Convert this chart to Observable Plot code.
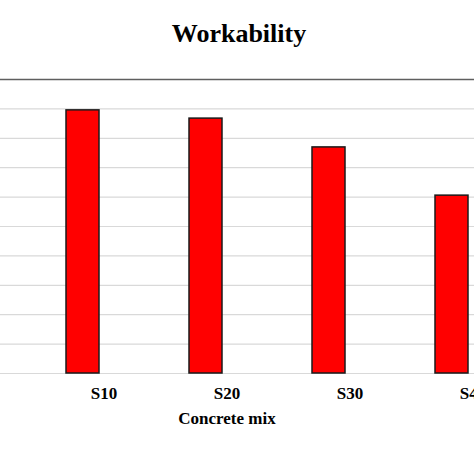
<!DOCTYPE html>
<html>
<head>
<meta charset="utf-8">
<script src="https://cdn.jsdelivr.net/npm/d3@7"></script>
<script src="https://cdn.jsdelivr.net/npm/@observablehq/plot@0.6"></script>
<style>
  html, body { margin: 0; padding: 0; background: #fff; overflow: hidden; width: 474px; height: 474px; }
  #title { box-sizing: border-box; height: 60px; padding-top: 19px; line-height: 26px; font: bold 26px "Liberation Serif", "Times New Roman", serif; text-align: center; width: 478px; color: #000; }
  #chart { margin-left: -81px; width: 700px; }
  #chart svg { max-width: none !important; }
</style>
</head>
<body>
<div id="title">Workability</div>
<div id="chart"></div>
<script>
const mixes = ["S10", "S20", "S30", "S40"];
const workability = [8.95, 8.67, 7.69, 6.05];
const gridValues = [0, 1, 2, 3, 4, 5, 6, 7, 8, 9];
const topValue = [10];
const xTitle = "Concrete mix";

const data = mixes.map((m, i) => ({mix: m, value: workability[i]}));
const serif = "Liberation Serif, Times New Roman, serif";

const chart = Plot.plot({
  width: 615,
  height: 383,
  marginLeft: 0,
  marginRight: 0,
  marginTop: 19,
  marginBottom: 70,
  style: {background: "transparent", overflow: "visible", maxWidth: "none"},
  x: {domain: mixes, range: [123, 615], padding: 0},
  y: {domain: [0, 10], axis: null},
  marks: [
    Plot.ruleY(gridValues, {stroke: "#d9d9d9", strokeWidth: 1.2}),
    Plot.ruleY(topValue, {stroke: "#5f5f5f", strokeWidth: 1.5}),
    Plot.barY(data, {x: "mix", y: "value", fill: "#ff0000", stroke: "#1a1a1a", strokeWidth: 1.5, insetLeft: 24, insetRight: 66}),
    Plot.axisX({tickSize: 0, tickPadding: 13, fontSize: 17, fontWeight: "bold", fontFamily: serif, fill: "#000", label: null}),
    Plot.text([xTitle], {frameAnchor: "bottom", lineAnchor: "bottom", dy: 50, fontSize: 17, fontWeight: "bold", fontFamily: serif, fill: "#000"})
  ]
});
document.getElementById("chart").appendChild(chart);
</script>
</body>
</html>
